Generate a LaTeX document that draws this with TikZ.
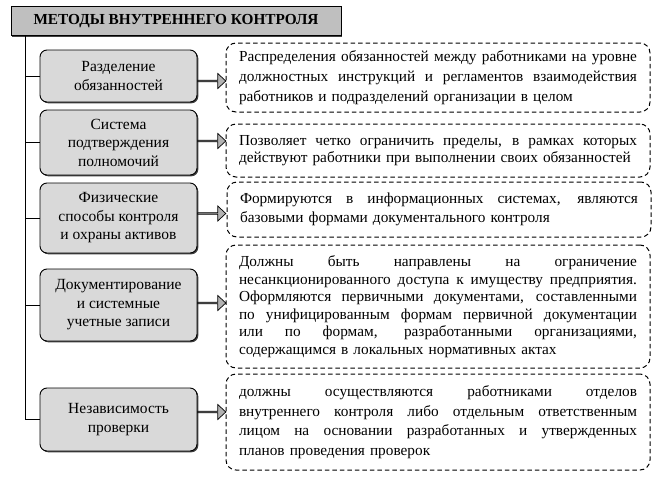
\documentclass[tikz,border=0pt]{standalone}
\usepackage{fontspec}
\setmainfont{Liberation Serif}
\usetikzlibrary{shapes.arrows,shadows,calc}
\newcommand\JLine[1]{{\spaceskip=0pt\xspaceskip=0pt\makebox[\linewidth][s]{#1}}\\}
\tikzset{
  titlebox/.style={draw=black, line width=0.9pt, fill=black!25, minimum width=330pt, minimum height=29pt, inner sep=0pt,
    font=\fontsize{15.3}{18}\selectfont\bfseries, drop shadow={shadow xshift=1.3pt, shadow yshift=-1.3pt, fill=black!75, opacity=1}},
  leftbox/.style={draw=black, line width=0.9pt, rounded corners=7pt, fill=black!15, minimum width=157pt, align=center, inner sep=2pt,
    font=\fontsize{15.5}{18.5}\selectfont, drop shadow={shadow xshift=1.3pt, shadow yshift=-1.3pt, fill=black!75, opacity=1}},
  rightbox/.style={draw=black, line width=1pt, dash pattern=on 4.5pt off 3pt, rounded corners=10pt, minimum width=424pt,
    text width=398pt, align=left, inner sep=0pt},
  bigarrow/.style={single arrow, draw=black, line width=0.7pt, fill=black!30, minimum height=28pt, minimum width=15pt,
    single arrow head extend=3pt, single arrow tip angle=86, inner sep=0pt, anchor=tail},
  branch/.style={draw=black, line width=0.9pt}
}
\begin{document}
\begin{tikzpicture}[x=1pt,y=-1pt]
\useasboundingbox (0,0) rectangle (657,477);
\node[titlebox] (title) at (176,21) {МЕТОДЫ ВНУТРЕННЕГО КОНТРОЛЯ};

\node[leftbox, minimum height=52pt] (l1) at (118.5,76) {Разделение\\обязанностей};
\node[leftbox, minimum height=65pt] (l2) at (118.5,142.5) {Система\\подтверждения\\полномочий};
\node[leftbox, minimum height=70pt] (l3) at (118.5,218) {Физические\\способы контроля\\и охраны активов};
\node[leftbox, minimum height=72pt] (l4) at (118.5,305) {Документирование\\и системные\\учетные записи};
\node[leftbox, minimum height=63pt] (l5) at (118.5,419.5) {Независимость\\проверки};

\node[rightbox, minimum height=69pt, font=\fontsize{15.3}{20}\selectfont] (r1) at (438,77.5) {\noindent
\JLine{Распределения обязанностей между работниками на уровне}
\JLine{должностных инструкций и регламентов взаимодействия}
работников и подразделений организации в целом};
\node[rightbox, minimum height=53pt, font=\fontsize{15.3}{17.5}\selectfont] (r2) at (438,150.5) {\noindent
\JLine{Позволяет четко ограничить пределы, в рамках которых}
действуют работники при выполнении своих обязанностей};
\node[rightbox, minimum height=55pt, font=\fontsize{15.3}{19}\selectfont] (r3) at (439,209.5) {\noindent
\JLine{Формируются в информационных системах, являются}
базовыми формами документального контроля};
\node[rightbox, minimum height=123pt, font=\fontsize{15.3}{17.5}\selectfont] (r4) at (438,306.5) {\noindent
\JLine{Должны быть направлены на ограничение}
\JLine{несанкционированного доступа к имуществу предприятия.}
\JLine{Оформляются первичными документами, составленными}
\JLine{по унифицированным формам первичной документации}
\JLine{или по формам, разработанными организациями,}
содержащимся в локальных нормативных актах};
\node[rightbox, minimum height=96pt, font=\fontsize{15.3}{19.5}\selectfont] (r5) at (438,422) {\noindent
\JLine{должны осуществляются работниками отделов}
\JLine{внутреннего контроля либо отдельным ответственным}
\JLine{лицом на основании разработанных и утвержденных}
планов проведения проверок};

\coordinate (trunk) at (25,35);
\draw[branch] (trunk) |- (l5.west);
\foreach \i in {1,...,4} \draw[branch] (l\i.west) -- (l\i.west -| trunk);

\node[bigarrow] (a1) at ($(l1.east)+(0,5)$) {};
\node[bigarrow] (a2) at ($(l2.east)+(0,-1.5)$) {};
\node[bigarrow] (a3) at ($(l3.east)+(0,-4.5)$) {};
\node[bigarrow] (a4) at ($(l4.east)+(0,-2)$) {};
\node[bigarrow] (a5) at ($(l5.east)+(0,-7.5)$) {};
\end{tikzpicture}
\end{document}
